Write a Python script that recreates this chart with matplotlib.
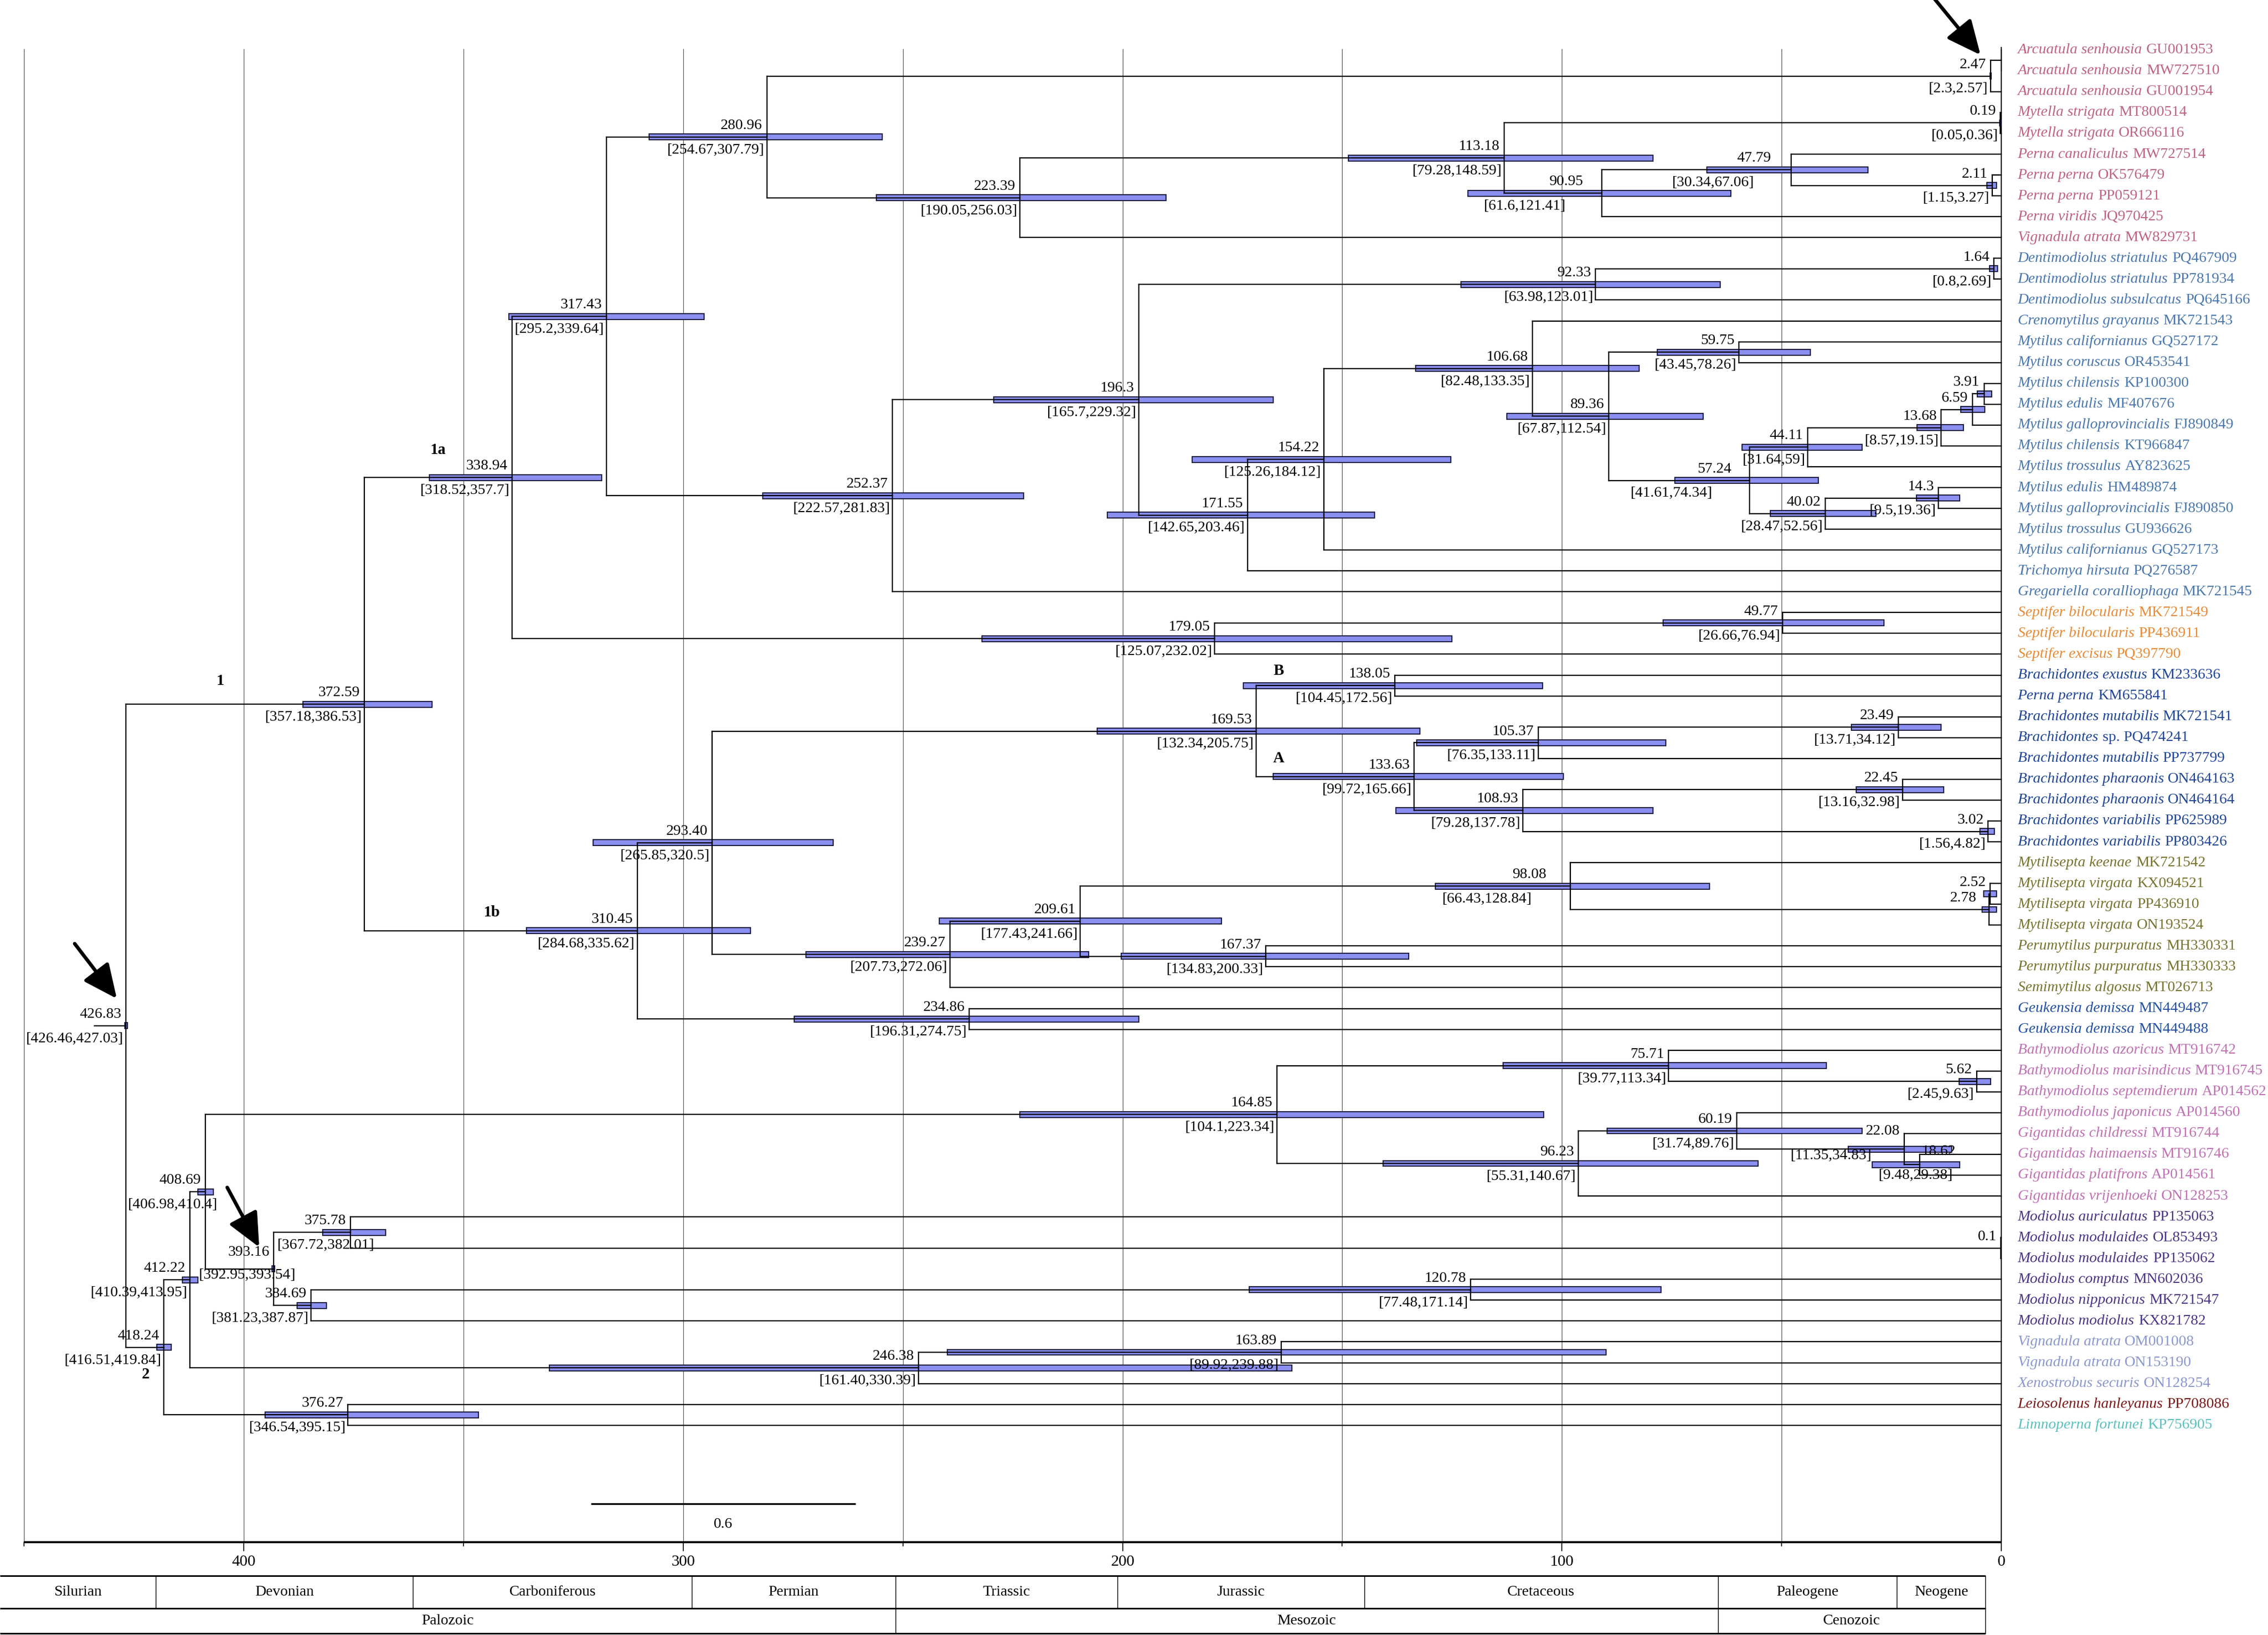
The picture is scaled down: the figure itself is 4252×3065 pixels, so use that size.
import matplotlib
matplotlib.use('Agg')
import matplotlib.pyplot as plt
from matplotlib.patches import Rectangle, FancyArrowPatch
from matplotlib.collections import LineCollection

plt.rcParams['font.family'] = ['Liberation Serif', 'DejaVu Serif']

# ---------------- data ----------------
SPECIES = [
    'Arcuatula senhousia', 'Arcuatula senhousia', 'Arcuatula senhousia',
    'Mytella strigata', 'Mytella strigata',
    'Perna canaliculus', 'Perna perna', 'Perna perna', 'Perna viridis', 'Vignadula atrata',
    'Dentimodiolus striatulus', 'Dentimodiolus striatulus', 'Dentimodiolus subsulcatus',
    'Crenomytilus grayanus', 'Mytilus californianus', 'Mytilus coruscus', 'Mytilus chilensis',
    'Mytilus edulis', 'Mytilus galloprovincialis', 'Mytilus chilensis', 'Mytilus trossulus',
    'Mytilus edulis', 'Mytilus galloprovincialis', 'Mytilus trossulus', 'Mytilus californianus',
    'Trichomya hirsuta', 'Gregariella coralliophaga',
    'Septifer bilocularis', 'Septifer bilocularis', 'Septifer excisus',
    'Brachidontes exustus', 'Perna perna', 'Brachidontes mutabilis', 'Brachidontes',
    'Brachidontes mutabilis', 'Brachidontes pharaonis', 'Brachidontes pharaonis',
    'Brachidontes variabilis', 'Brachidontes variabilis',
    'Mytilisepta keenae', 'Mytilisepta virgata', 'Mytilisepta virgata', 'Mytilisepta virgata',
    'Perumytilus purpuratus', 'Perumytilus purpuratus', 'Semimytilus algosus',
    'Geukensia demissa', 'Geukensia demissa',
    'Bathymodiolus azoricus', 'Bathymodiolus marisindicus', 'Bathymodiolus septemdierum',
    'Bathymodiolus japonicus', 'Gigantidas childressi', 'Gigantidas haimaensis',
    'Gigantidas platifrons', 'Gigantidas vrijenhoeki',
    'Modiolus auriculatus', 'Modiolus modulaides', 'Modiolus modulaides', 'Modiolus comptus',
    'Modiolus nipponicus', 'Modiolus modiolus',
    'Vignadula atrata', 'Vignadula atrata', 'Xenostrobus securis',
    'Leiosolenus hanleyanus', 'Limnoperna fortunei']
ACCESSION = [
    'GU001953', 'MW727510', 'GU001954', 'MT800514', 'OR666116', 'MW727514', 'OK576479',
    'PP059121', 'JQ970425', 'MW829731', 'PQ467909', 'PP781934', 'PQ645166', 'MK721543',
    'GQ527172', 'OR453541', 'KP100300', 'MF407676', 'FJ890849', 'KT966847', 'AY823625',
    'HM489874', 'FJ890850', 'GU936626', 'GQ527173', 'PQ276587', 'MK721545', 'MK721549',
    'PP436911', 'PQ397790', 'KM233636', 'KM655841', 'MK721541', 'sp. PQ474241', 'PP737799',
    'ON464163', 'ON464164', 'PP625989', 'PP803426', 'MK721542', 'KX094521', 'PP436910',
    'ON193524', 'MH330331', 'MH330333', 'MT026713', 'MN449487', 'MN449488', 'MT916742',
    'MT916745', 'AP014562', 'AP014560', 'MT916744', 'MT916746', 'AP014561', 'ON128253',
    'PP135063', 'OL853493', 'PP135062', 'MN602036', 'MK721547', 'KX821782', 'OM001008',
    'ON153190', 'ON128254', 'PP708086', 'KP756905']
GROUP_SIZES = [10, 17, 3, 9, 7, 2, 8, 6, 3, 1, 1]
GROUP_COLORS = ['#bf6282', '#4a77ae', '#e88a36', '#1f4597', '#77732f', '#2350a2',
                '#c070b4', '#4b3585', '#8b97cf', '#7c1616', '#5cbfbf']

NODE_NAMES = ['arc12', 'arc', 'mytella', 'pp', 'perna', 'pernav', 'n113', 'n223', 'n281',
              'dent12', 'dent', 'n5975', 'n391', 'n659', 'n1368', 'n4411', 'n143', 'n4002',
              'n5724', 'n8936', 'n10668', 'n15422', 'n17155', 'n1963', 'n25237', 'n31743',
              'n4977', 'n17905', 'n1a',
              'nB', 'n2349', 'n10537', 'n2245', 'n302', 'n10893', 'nA', 'n16953', 'n252',
              'n278', 'n9808', 'n16737', 'n20961', 'n23927', 'n2934', 'n23486', 'n1b', 'n1',
              'n562', 'n7571', 'n1862', 'n2208', 'n6019', 'n9623', 'n16485', 'n01', 'n37578',
              'n12078', 'n38469', 'n39316', 'n40869', 'n16389', 'n24638', 'n41222', 'n37627',
              'n2', 'root']
NODE_CHILDREN = [
    [1, 2], ['arc12', 3], [4, 5], [7, 8], [6, 'pp'], ['perna', 9], ['mytella', 'pernav'],
    ['n113', 10], ['arc', 'n223'],
    [11, 12], ['dent12', 13], [15, 16], [17, 18], ['n391', 19], ['n659', 20], ['n1368', 21],
    [22, 23], ['n143', 24], ['n4411', 'n4002'], ['n5975', 'n5724'], [14, 'n8936'],
    ['n10668', 25], ['n15422', 26], ['dent', 'n17155'], ['n1963', 27], ['n281', 'n25237'],
    [28, 29], ['n4977', 30], ['n31743', 'n17905'],
    [31, 32], [33, 34], ['n2349', 35], [36, 37], [38, 39], ['n2245', 'n302'],
    ['n10537', 'n10893'], ['nB', 'nA'], [41, 42], ['n252', 43], [40, 'n278'], [44, 45],
    ['n9808', 'n16737'], ['n20961', 46], ['n16953', 'n23927'], [47, 48], ['n2934', 'n23486'],
    ['n1a', 'n1b'],
    [50, 51], [49, 'n562'], [54, 55], [53, 'n1862'], [52, 'n2208'], ['n6019', 56],
    ['n7571', 'n9623'], [58, 59], [57, 'n01'], [60, 61], ['n12078', 62], ['n37578', 'n38469'],
    ['n16485', 'n39316'], [63, 64], ['n16389', 65], ['n40869', 'n24638'], [66, 67],
    ['n41222', 'n37627'], ['n1', 'n2']]
NODE_AGE = ['0.05', '2.47', '0.19', '2.11', '47.79', '90.95', '113.18', '223.39', '280.96',
            '1.64', '92.33', '59.75', '3.91', '6.59', '13.68', '44.11', '14.3', '40.02',
            '57.24', '89.36', '106.68', '154.22', '171.55', '196.3', '252.37', '317.43',
            '49.77', '179.05', '338.94',
            '138.05', '23.49', '105.37', '22.45', '3.02', '108.93', '133.63', '169.53', '2.52',
            '2.78', '98.08', '167.37', '209.61', '239.27', '293.40', '234.86', '310.45',
            '372.59',
            '5.62', '75.71', '18.62', '22.08', '60.19', '96.23', '164.85', '0.1', '375.78',
            '120.78', '384.69', '393.16', '408.69', '163.89', '246.38', '412.22', '376.27',
            '418.24', '426.83']
NODE_HPD = [None, ('2.3', '2.57'), ('0.05', '0.36'), ('1.15', '3.27'), ('30.34', '67.06'),
            ('61.6', '121.41'), ('79.28', '148.59'), ('190.05', '256.03'), ('254.67', '307.79'),
            ('0.8', '2.69'), ('63.98', '123.01'), ('43.45', '78.26'), ('2.2', '5.5'),
            ('3.8', '9.2'), ('8.57', '19.15'), ('31.64', '59'), ('9.5', '19.36'),
            ('28.47', '52.56'), ('41.61', '74.34'), ('67.87', '112.54'), ('82.48', '133.35'),
            ('125.26', '184.12'), ('142.65', '203.46'), ('165.7', '229.32'),
            ('222.57', '281.83'), ('295.2', '339.64'), ('26.66', '76.94'), ('125.07', '232.02'),
            ('318.52', '357.7'),
            ('104.45', '172.56'), ('13.71', '34.12'), ('76.35', '133.11'), ('13.16', '32.98'),
            ('1.56', '4.82'), ('79.28', '137.78'), ('99.72', '165.66'), ('132.34', '205.75'),
            ('1.1', '4.0'), ('1.1', '4.4'), ('66.43', '128.84'), ('134.83', '200.33'),
            ('177.43', '241.66'), ('207.73', '272.06'), ('265.85', '320.5'),
            ('196.31', '274.75'), ('284.68', '335.62'), ('357.18', '386.53'),
            ('2.45', '9.63'), ('39.77', '113.34'), ('9.48', '29.38'), ('11.35', '34.83'),
            ('31.74', '89.76'), ('55.31', '140.67'), ('104.1', '223.34'), None,
            ('367.72', '382.01'), ('77.48', '171.14'), ('381.23', '387.87'),
            ('392.95', '393.54'), ('406.98', '410.4'), ('89.92', '239.88'),
            ('161.40', '330.39'), ('410.39', '413.95'), ('346.54', '395.15'),
            ('416.51', '419.84'), ('426.46', '427.03')]
AGE_LABEL_HIDDEN = {'arc12'}
HPD_LABEL_HIDDEN = {'n391', 'n659', 'n252', 'n278'}

CLADE_NAMES = ['1', '1a', '1b', '2', 'B', 'A']
CLADE_AGE = [405.3, 355.8, 343.6, 422.3, 164.5, 164.5]
CLADE_ROW = [31.27, 20.2, 42.4, 64.57, 30.8, 34.98]

PERIOD_NAMES = ['Silurian', 'Devonian', 'Carboniferous', 'Permian', 'Triassic', 'Jurassic',
                'Cretaceous', 'Paleogene', 'Neogene']
PERIOD_BOUNDS = [455.5, 420.0, 361.5, 298.0, 251.7, 201.2, 145.0, 64.5, 23.8, 3.6]
ERA_NAMES = ['Palozoic', 'Mesozoic', 'Cenozoic']
ERA_BOUNDS = [455.5, 251.7, 64.5, 3.6]

TICKS_MAJOR = [400, 300, 200, 100, 0]
TICKS_MINOR = [450, 350, 250, 150, 50]
SCALE_BAR = (321.0, 260.8)
SCALE_LABEL = '0.6'

# ---------------- layout ----------------
W, H, DPI = 4252, 3065, 300
PX_PER_MA = 8.2375
X0 = 3752.0
ROW1_Y = 93.75
ROW_H = 39.06


def ry(px):
    return 1 + (px - ROW1_Y) / ROW_H


def ag(px):
    return (X0 - px) / PX_PER_MA


fig = plt.figure(figsize=(W / DPI, H / DPI), dpi=DPI)
ax = fig.add_axes([0, 0, 1, 1])
ax.set_xlim(ag(0), ag(W))
ax.set_ylim(ry(H), ry(0))
ax.axis('off')

FS = 6.8
LW = 0.55
BAR_H = 0.28

# label nudges (Ma, rows) relative to default placement
NUDGE = {
    'pernav': dict(ndx=3.25, hdx=7.7),
    'perna': dict(ndx=3.6, hdx=7.9),
    'n5724': dict(ndx=3.2, hdx=8.0),
    'n9808': dict(ndx=4.4, hdx=8.2),
    'n278': dict(ndx=1.9),
    'n1862': dict(ndx=-9.2, hdx=-8.1, ndy=-0.1, hdy=-0.1),
    'n2208': dict(hdx=6.9, hdy=-0.3, ndy=-0.3),
    'n39316': dict(hdx=-5.5, hdy=-0.33, ndy=-0.25),
    'n37578': dict(hdx=-6.0),
    'n40869': dict(hdx=-3.2),
}

idx = {n: i for i, n in enumerate(NODE_NAMES)}
ycache = {}


def gety(c):
    if isinstance(c, int):
        return float(c)
    if c not in ycache:
        kids = NODE_CHILDREN[idx[c]]
        ycache[c] = (gety(kids[0]) + gety(kids[-1])) / 2.0
    return ycache[c]


def getx(c):
    if isinstance(c, int):
        return 0.0
    return float(NODE_AGE[idx[c]])


# gridlines
AXIS_ROW = ry(2891)
for a in TICKS_MAJOR + TICKS_MINOR:
    if a == 0:
        ax.plot([a, a], [ry(89), AXIS_ROW], color='black', lw=0.5, zorder=1)
    else:
        ax.plot([a, a], [ry(92), AXIS_ROW], color='#555555', lw=0.3, zorder=1)

# branches
segs = []
for i, n in enumerate(NODE_NAMES):
    a = float(NODE_AGE[i])
    kids = NODE_CHILDREN[i]
    ys = [gety(k) for k in kids]
    segs.append([(a, min(ys)), (a, max(ys))])
    for k in kids:
        segs.append([(a, gety(k)), (getx(k), gety(k))])
root_y = gety('root')
segs.append([(float(NODE_AGE[idx['root']]), root_y), (434.0, root_y)])
ax.add_collection(LineCollection(segs, colors='black', linewidths=LW, zorder=3,
                                 capstyle='projecting'))

# HPD bars and labels
for i, n in enumerate(NODE_NAMES):
    a = float(NODE_AGE[i])
    y = gety(n)
    hpd = NODE_HPD[i]
    nd = NUDGE.get(n, {})
    if hpd is not None:
        lo, hi = float(hpd[0]), float(hpd[1])
        ax.add_patch(Rectangle((lo, y - BAR_H / 2), hi - lo, BAR_H, facecolor='#8a8ff0',
                               edgecolor='#1e1e40', lw=0.5, zorder=2))
    if n not in AGE_LABEL_HIDDEN:
        ax.text(a + 1.0 + nd.get('ndx', 0), y - 0.55 + nd.get('ndy', 0), NODE_AGE[i],
                ha='right', va='center', fontsize=FS, zorder=5)
    if hpd is not None and n not in HPD_LABEL_HIDDEN:
        ax.text(a + 0.5 + nd.get('hdx', 0), y + 0.62 + nd.get('hdy', 0),
                '[%s,%s]' % hpd, ha='right', va='center', fontsize=FS, zorder=5)

# tip labels
colors = []
for g, s in enumerate(GROUP_SIZES):
    colors += [GROUP_COLORS[g]] * s
for r, (sp, acc) in enumerate(zip(SPECIES, ACCESSION), start=1):
    t = ax.text(ag(3782.6), r, sp, style='italic', ha='left', va='center', fontsize=FS,
                color=colors[r - 1])
    ax.annotate(acc, xy=(1, 0), xycoords=t, xytext=(1.8, 0), textcoords='offset points',
                ha='left', va='bottom', fontsize=FS, color=colors[r - 1])

# clade labels
for name, a, r in zip(CLADE_NAMES, CLADE_AGE, CLADE_ROW):
    ax.text(a, r, name, ha='center', va='center', fontsize=7, fontweight='bold')

# arrows
ARROWS = [((ag(3622), ry(-8)), (ag(3713), ry(103))),
          ((ag(140), ry(1769)), (ag(219), ry(1872))),
          ((ag(426), ry(2226)), (ag(486), ry(2338)))]
for p0, p1 in ARROWS:
    ax.add_patch(FancyArrowPatch(p0, p1, arrowstyle='-|>,head_length=13,head_width=6',
                                 mutation_scale=1, lw=1.6, color='black', shrinkA=0,
                                 shrinkB=0, zorder=6))

# scale bar
sb_y = ry(2819)
ax.plot(SCALE_BAR, [sb_y, sb_y], color='black', lw=0.8, solid_capstyle='butt')
ax.text((SCALE_BAR[0] + SCALE_BAR[1]) / 2, ry(2858), SCALE_LABEL, ha='center', va='center',
        fontsize=FS)

# time axis
ax.plot([450, 0], [AXIS_ROW, AXIS_ROW], color='black', lw=0.9, solid_capstyle='butt')
for a in TICKS_MAJOR:
    ax.plot([a, a], [AXIS_ROW, ry(2907)], color='black', lw=0.4)
    ax.text(a, ry(2928), str(a), ha='center', va='center', fontsize=7.2)
for a in TICKS_MINOR:
    ax.plot([a, a], [AXIS_ROW, ry(2898)], color='black', lw=0.4)

# geological time scale
t_top, t_mid, t_bot = ry(2954), ry(3015), ry(3062)
for yy in (t_top, t_mid, t_bot):
    ax.plot([PERIOD_BOUNDS[0], PERIOD_BOUNDS[-1]], [yy, yy], color='black', lw=0.7,
            solid_capstyle='butt')
for b in PERIOD_BOUNDS[1:]:
    ax.plot([b, b], [t_top, t_mid], color='black', lw=0.35)
for b in ERA_BOUNDS[1:]:
    ax.plot([b, b], [t_mid, t_bot], color='black', lw=0.35)
for i, nm in enumerate(PERIOD_NAMES):
    ax.text((PERIOD_BOUNDS[i] + PERIOD_BOUNDS[i + 1]) / 2, (t_top + t_mid) / 2, nm,
            ha='center', va='center', fontsize=FS)
for i, nm in enumerate(ERA_NAMES):
    ax.text((ERA_BOUNDS[i] + ERA_BOUNDS[i + 1]) / 2, (t_mid + t_bot) / 2, nm,
            ha='center', va='center', fontsize=FS)

fig.savefig('out.png', dpi=DPI, facecolor='white')
